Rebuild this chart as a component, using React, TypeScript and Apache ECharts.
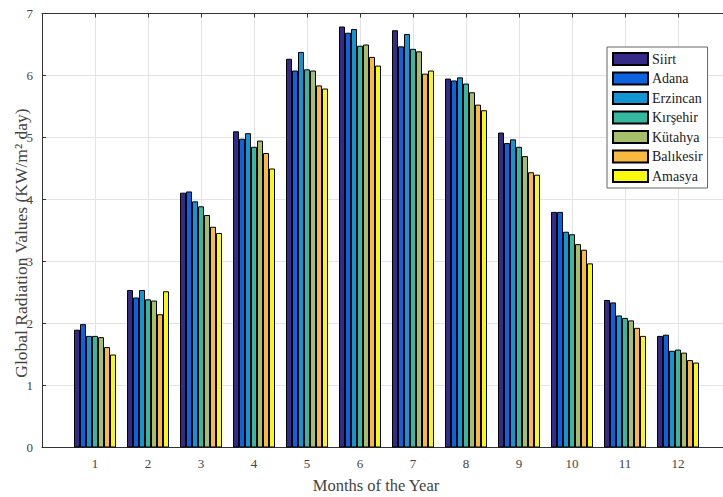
import React, { useEffect, useRef } from "react";
import * as echarts from "echarts";

const months = [1, 2, 3, 4, 5, 6, 7, 8, 9, 10, 11, 12];
const cities = ["Siirt", "Adana", "Erzincan", "Kırşehir", "Kütahya", "Balıkesir", "Amasya"];
const siirt = [1.9, 2.54, 4.11, 5.1, 6.27, 6.79, 6.73, 5.95, 5.08, 3.8, 2.38, 1.8];
const adana = [1.99, 2.42, 4.13, 4.98, 6.08, 6.69, 6.47, 5.92, 4.91, 3.8, 2.34, 1.82];
const erzincan = [1.8, 2.54, 3.97, 5.07, 6.38, 6.75, 6.67, 5.97, 4.97, 3.48, 2.13, 1.56];
const kirsehir = [1.8, 2.39, 3.89, 4.85, 6.1, 6.48, 6.43, 5.87, 4.85, 3.44, 2.09, 1.58];
const kutahya = [1.78, 2.37, 3.75, 4.95, 6.08, 6.5, 6.39, 5.73, 4.7, 3.28, 2.05, 1.53];
const balikesir = [1.62, 2.15, 3.56, 4.75, 5.84, 6.3, 6.03, 5.53, 4.44, 3.19, 1.93, 1.41];
const amasya = [1.5, 2.52, 3.46, 4.5, 5.79, 6.16, 6.08, 5.44, 4.4, 2.97, 1.8, 1.37];
const seriesValues = [siirt, adana, erzincan, kirsehir, kutahya, balikesir, amasya];
const colors = ["#352a87", "#0d62df", "#1196d3", "#36b8a0", "#a4be6a", "#f9b840", "#f8f90e"];

const FONT = "'Liberation Serif', 'Times New Roman', serif";

export default function App() {
  const ref = useRef<HTMLDivElement>(null);
  useEffect(() => {
    if (!ref.current) return;
    const chart = echarts.init(ref.current, null, { renderer: "svg" });
    chart.setOption({
      animation: false,
      backgroundColor: "#ffffff",
      grid: {
        left: 42,
        right: -8,
        top: 13.5,
        bottom: 49.5,
        containLabel: false,
        outerBoundsMode: "none",
      },
      xAxis: [
        {
          type: "value",
          min: 0,
          max: 13,
          interval: 1,
          axisLine: { show: true, lineStyle: { color: "#333", width: 1 } },
          axisTick: { show: true, inside: true, length: 4, lineStyle: { color: "#333" } },
          axisLabel: {
            color: "#444",
            fontFamily: FONT,
            fontSize: 13,
            margin: 9,
            formatter: (v: number) => (v >= 1 && v <= 12 ? String(v) : ""),
          },
          splitLine: { show: true, lineStyle: { color: "#e3e3e3", width: 1 } },
        },
        {
          type: "value",
          position: "top",
          min: 0,
          max: 13,
          interval: 1,
          axisLine: { show: true, lineStyle: { color: "#333", width: 1 } },
          axisTick: { show: true, inside: true, length: 4, lineStyle: { color: "#333" } },
          axisLabel: { show: false },
          splitLine: { show: false },
        },
      ],
      yAxis: {
        type: "value",
        min: 0,
        max: 7,
        interval: 1,
        axisLine: { show: true, lineStyle: { color: "#333", width: 1 } },
        axisTick: { show: true, inside: true, length: 4, lineStyle: { color: "#333" } },
        axisLabel: { color: "#444", fontFamily: FONT, fontSize: 13, margin: 9 },
        splitLine: { show: true, lineStyle: { color: "#e3e3e3", width: 1 } },
      },
      legend: {
        orient: "vertical",
        left: 607,
        top: 47,
        padding: [5, 5, 5, 5],
        itemWidth: 35,
        itemHeight: 12,
        itemGap: 5.5,
        icon: "rect",
        backgroundColor: "#ffffff",
        borderColor: "#666",
        borderWidth: 1,
        borderRadius: 0,
        textStyle: { color: "#222", fontFamily: FONT, fontSize: 14, padding: [0, 0, 0, -1] },
        data: cities,
      },
      graphic: [
        {
          type: "text",
          x: 21,
          y: 243,
          rotation: Math.PI / 2,
          style: {
            text: "Global Radiation Values (KW/m² day)",
            font: `17.5px ${FONT}`,
            fill: "#444",
            textAlign: "center",
            textVerticalAlign: "middle",
          },
        },
        {
          type: "text",
          x: 376,
          y: 485,
          style: {
            text: "Months of the Year",
            font: `16.5px ${FONT}`,
            fill: "#444",
            textAlign: "center",
            textVerticalAlign: "middle",
          },
        },
      ],
      series: cities.map((name, i) => ({
        name,
        type: "bar",
        xAxisIndex: 0,
        barWidth: 6,
        barGap: "0%",
        itemStyle: { color: colors[i], borderColor: "#000", borderWidth: 1 },
        data: months.map((m, j) => [m, seriesValues[i][j]]),
      })),
    });
    return () => chart.dispose();
  }, []);
  return (
    <div
      ref={ref}
      style={{ position: "fixed", left: 0, top: 0, width: 723, height: 497 }}
    />
  );
}
